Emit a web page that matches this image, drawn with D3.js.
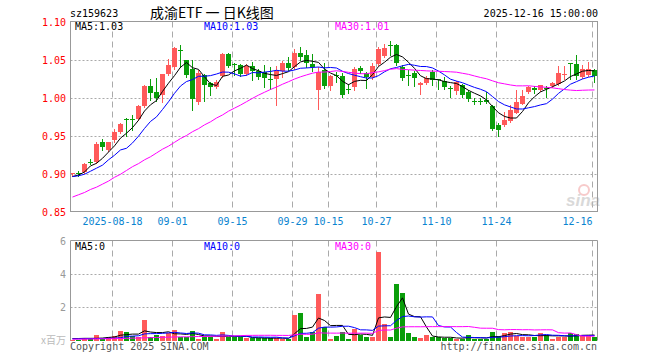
<!DOCTYPE html>
<html>
<head>
<meta charset="utf-8">
<script src="https://cdn.jsdelivr.net/npm/d3@7"></script>
<style>
  body { margin: 0; background: #fff; }
  svg { display: block; }
  text { font-family: "DejaVu Sans Mono", monospace; font-size: 10px; }
</style>
</head>
<body>
<svg id="chart" width="660" height="360"></svg>
<script>
// trading days shown in the chart
const dates = [
  "2025-08-07","2025-08-08","2025-08-11","2025-08-12","2025-08-13","2025-08-14","2025-08-15",
  "2025-08-18","2025-08-19","2025-08-20","2025-08-21","2025-08-22","2025-08-25","2025-08-26",
  "2025-08-27","2025-08-28","2025-08-29","2025-09-01","2025-09-02","2025-09-03","2025-09-04",
  "2025-09-05","2025-09-08","2025-09-09","2025-09-10","2025-09-11","2025-09-12","2025-09-15",
  "2025-09-16","2025-09-17","2025-09-18","2025-09-19","2025-09-22","2025-09-23","2025-09-24",
  "2025-09-25","2025-09-26","2025-09-29","2025-09-30","2025-10-09","2025-10-10","2025-10-13",
  "2025-10-14","2025-10-15","2025-10-16","2025-10-17","2025-10-20","2025-10-21","2025-10-22",
  "2025-10-23","2025-10-24","2025-10-27","2025-10-28","2025-10-29","2025-10-30","2025-10-31",
  "2025-11-03","2025-11-04","2025-11-05","2025-11-06","2025-11-07","2025-11-10","2025-11-11",
  "2025-11-12","2025-11-13","2025-11-14","2025-11-17","2025-11-18","2025-11-19","2025-11-20",
  "2025-11-21","2025-11-24","2025-11-25","2025-11-26","2025-11-27","2025-11-28","2025-12-01",
  "2025-12-02","2025-12-03","2025-12-04","2025-12-05","2025-12-08","2025-12-09","2025-12-10",
  "2025-12-11","2025-12-12","2025-12-15","2025-12-16"
];

const opens = [
  0.900,0.901,0.902,0.915,0.915,0.941,0.931,0.943,0.955,0.972,0.972,0.972,0.989,1.015,1.007,1.004,
  1.031,1.040,1.062,1.050,1.037,0.994,1.029,1.019,1.014,1.028,1.057,1.044,1.043,1.031,1.041,1.035,
  1.034,1.024,1.024,1.035,1.046,1.040,1.059,1.056,1.044,1.009,1.036,1.015,1.029,1.028,1.011,1.013,
  1.039,1.032,1.027,1.044,1.054,1.069,1.069,1.040,1.030,1.032,1.016,1.020,1.034,1.024,1.022,1.013,
  1.008,1.016,1.007,0.996,0.995,0.997,0.989,0.964,0.965,0.969,0.980,0.992,1.007,1.013,1.010,1.012,
  1.015,1.018,1.030,1.046,1.044,1.027,1.029,1.036
];
const highs = [
  0.901,0.903,0.914,0.919,0.941,0.945,0.941,0.959,0.967,0.973,0.977,0.990,1.017,1.025,1.026,1.031,
  1.051,1.066,1.069,1.050,1.050,1.036,1.031,1.021,1.023,1.059,1.058,1.046,1.044,1.044,1.047,1.037,
  1.043,1.040,1.041,1.048,1.053,1.064,1.067,1.062,1.057,1.040,1.045,1.030,1.034,1.032,1.018,1.040,
  1.041,1.034,1.045,1.067,1.071,1.075,1.071,1.043,1.036,1.035,1.020,1.028,1.036,1.025,1.027,1.015,
  1.022,1.018,1.010,0.999,1.000,1.007,0.990,0.967,0.981,0.990,1.010,1.010,1.015,1.015,1.017,1.015,
  1.020,1.041,1.041,1.046,1.056,1.043,1.047,1.038
];
const lows = [
  0.897,0.897,0.901,0.913,0.914,0.931,0.930,0.942,0.953,0.950,0.957,0.970,0.988,0.997,0.995,0.994,
  1.030,1.038,1.040,1.027,0.983,0.992,0.996,1.003,1.013,1.027,1.040,1.029,1.028,1.030,1.023,1.024,
  1.014,1.011,0.990,1.027,1.036,1.038,1.049,1.040,1.035,0.985,1.012,1.010,1.021,1.001,1.006,1.010,
  1.032,1.012,1.025,1.043,1.053,1.056,1.043,1.023,1.016,1.015,1.005,1.018,1.017,1.011,1.011,1.001,
  1.005,1.001,0.996,0.991,0.991,0.993,0.957,0.950,0.963,0.968,0.979,0.991,1.006,1.006,1.009,1.001,
  1.014,1.017,1.025,1.025,1.025,1.026,1.028,1.021
];
const closes = [
  0.901,0.900,0.913,0.914,0.939,0.934,0.941,0.954,0.965,0.971,0.971,0.989,1.015,1.006,0.999,1.031,
  1.043,1.065,1.061,1.030,0.997,1.032,1.016,1.014,1.020,1.057,1.041,1.043,1.031,1.041,1.034,1.027,
  1.026,1.023,1.035,1.046,1.040,1.059,1.054,1.045,1.040,1.033,1.015,1.028,1.028,1.003,1.010,1.037,
  1.035,1.027,1.041,1.064,1.065,1.068,1.045,1.025,1.029,1.025,1.019,1.026,1.023,1.023,1.014,1.012,
  1.020,1.003,0.998,0.995,0.9945,0.994,0.959,0.957,0.971,0.984,0.994,1.002,1.014,1.011,1.016,1.011,
  1.019,1.032,1.031,1.045,1.028,1.037,1.037,1.028
];
// volume, millions of shares
const volumes = [
  0.05,0.05,0.14,0.08,0.34,0.12,0.24,0.28,0.60,0.52,0.28,0.24,1.26,0.24,0.36,0.28,
  0.48,0.66,0.20,0.20,0.60,0.12,0.24,0.20,0.10,0.54,0.20,0.20,0.20,0.14,0.14,0.14,
  0.14,0.14,0.16,0.12,0.08,1.54,1.66,0.22,0.52,2.80,0.80,0.12,0.28,0.52,0.12,0.70,
  0.32,0.18,0.24,5.34,0.98,0.18,3.42,2.88,0.46,0.22,0.14,0.34,0.18,0.18,0.14,0.14,
  0.12,0.12,0.34,0.10,0.10,0.10,0.54,0.28,0.46,0.54,0.28,0.20,0.24,0.24,0.48,0.32,
  0.12,0.24,0.20,0.44,0.40,0.28,0.28,0.24
];

// moving-average values before a full window exists
const ma5Head = [0.896, 0.898, 0.902, 0.910];
const ma10Head = [0.896, 0.897, 0.899, 0.903, 0.907, 0.911, 0.918, 0.924, 0.931];
const ma30Head = [0.869,0.872,0.875,0.879,0.882,0.886,0.890,0.895,0.899,0.904,0.909,0.913,0.918,0.922,
  0.927,0.932,0.936,0.941,0.946,0.950,0.955,0.959,0.964,0.968,0.973,0.977,0.982,0.986,0.990];
const volMa5Head = [0.12, 0.12, 0.13, 0.13];
const volMa10Head = [0.10, 0.10, 0.11, 0.11, 0.12, 0.12, 0.13, 0.14, 0.17];
const volMa30Head = [0.08,0.08,0.09,0.09,0.10,0.10,0.11,0.11,0.12,0.13,0.14,0.15,0.16,0.17,0.18,
  0.19,0.20,0.21,0.22,0.22,0.23,0.24,0.24,0.25,0.26,0.26,0.27,0.28,0.29];

const tickDates = ["2025-08-18","2025-09-01","2025-09-15","2025-09-29","2025-10-15","2025-10-27","2025-11-10","2025-11-24","2025-12-16"];
const tickLabels = ["2025-08-18","09-01","09-15","09-29","10-15","10-27","11-10","11-24","12-16"];
const priceTicks = [0.85, 0.90, 0.95, 1.00, 1.05, 1.10];
const volTicks = [2, 4, 6];
const priceLegend = ["MA5:1.03", "MA10:1.03", "MA30:1.01"];
const volLegend = ["MA5:0", "MA10:0", "MA30:0"];

const RED = "#ff5a5a", GREEN = "#0a9e0a";
const maColors = ["#000", "#0000ff", "#ff00ff"];
const left = 70.5, right = 597.5;

const svg = d3.select("#chart");
svg.append("rect").attr("width", 660).attr("height", 360).attr("fill", "#fff");

const x = d3.scaleBand().domain(dates).range([69.5, 597.5]);
const cx = i => x(dates[i]) + 3;
const y = d3.scaleLinear().domain([0.85, 1.10]).range([211.5, 21.5]);
const yv = d3.scaleLinear().domain([0, 6]).range([340.5, 240.5]);
const idx = d3.range(dates.length);

const movingAvg = (values, n, head) =>
  values.map((v, i) => i < n - 1 ? head[i] : d3.mean(values.slice(i - n + 1, i + 1)));

const ma = [movingAvg(closes, 5, ma5Head), movingAvg(closes, 10, ma10Head), movingAvg(closes, 30, ma30Head)];
const vma = [movingAvg(volumes, 5, volMa5Head), movingAvg(volumes, 10, volMa10Head), movingAvg(volumes, 30, volMa30Head)];
const colorOf = i => closes[i] >= opens[i] ? RED : GREEN;

// ---- header
svg.append("text").attr("x", 70).attr("y", 17).text("sz159623");
svg.append("text").attr("x", 150).attr("y", 18)
  .style("font-family", '"Noto Sans CJK SC", sans-serif').style("font-size", "14px")
  .text("成渝ETF 一 日K线图");
svg.append("text").attr("x", 598).attr("y", 17).attr("text-anchor", "end").text("2025-12-16 15:00:00");

// ---- grids
function grid(g, yScale, ticks, top, bottom) {
  g.append("g").selectAll("line").data(ticks).join("line")
    .attr("x1", left).attr("x2", right)
    .attr("y1", d => Math.round(yScale(d)) + 0.5).attr("y2", d => Math.round(yScale(d)) + 0.5)
    .attr("stroke", "#aaa").attr("stroke-dasharray", "2,2");
  g.append("g").selectAll("line").data(tickDates).join("line")
    .attr("x1", d => x(d) + 1).attr("x2", d => x(d) + 1)
    .attr("y1", top).attr("y2", bottom)
    .attr("stroke", "#aaa").attr("stroke-dasharray", "6,4");
}

const price = svg.append("g");
grid(price, y, [0.90, 0.95, 1.00, 1.05], 21.5, 211.5);

// sina watermark
const mark = price.append("g").attr("opacity", 0.55);
mark.append("circle").attr("cx", 584).attr("cy", 190).attr("r", 5)
  .attr("fill", "none").attr("stroke", "#f2a0a0").attr("stroke-width", 2);
mark.append("text").attr("x", 566).attr("y", 206)
  .style("font-family", '"Liberation Sans", sans-serif').style("font-size", "17px")
  .style("font-style", "italic").style("font-weight", "bold")
  .attr("fill", "#bbb").text("sina");

// candles
price.append("g").selectAll("line").data(idx).join("line")
  .attr("x1", cx).attr("x2", cx)
  .attr("y1", i => Math.round(y(highs[i]))).attr("y2", i => Math.round(y(lows[i])) + 1)
  .attr("stroke", colorOf);
price.append("g").selectAll("rect").data(idx).join("rect")
  .attr("x", i => cx(i) - 2.5).attr("width", 5)
  .attr("y", i => Math.round(y(Math.max(opens[i], closes[i]))))
  .attr("height", i => Math.max(1, Math.round(Math.abs(y(opens[i]) - y(closes[i])))))
  .attr("fill", colorOf);

// price MAs
const priceLine = arr => d3.line().x(cx).y(i => y(arr[i]));
ma.forEach((arr, k) => {
  price.append("path").attr("d", priceLine(arr)(idx))
    .attr("fill", "none").attr("stroke", maColors[k]).attr("stroke-width", 1);
});

price.append("rect").attr("x", left).attr("y", 21.5).attr("width", right - left).attr("height", 190)
  .attr("fill", "none").attr("stroke", "#999");

// price labels
price.append("g").selectAll("text").data(priceTicks).join("text")
  .attr("x", 66).attr("y", d => y(d) + 4).attr("text-anchor", "end")
  .attr("fill", "#f00").text(d => d.toFixed(2));

price.append("g").selectAll("text").data(priceLegend).join("text")
  .attr("x", (d, k) => [75, 204, 335][k]).attr("y", 30)
  .attr("fill", (d, k) => maColors[k]).text(d => d);

// date labels
price.append("g").selectAll("text").data(tickDates).join("text")
  .attr("x", d => x(d) + 1).attr("y", 225)
  .attr("text-anchor", (d, k) => k === tickDates.length - 1 ? "end" : "middle")
  .attr("fill", "#0a84d0")
  .text((d, k) => tickLabels[k]);

// ---- volume
const vol = svg.append("g");
grid(vol, yv, [2, 4], 240.5, 340.5);

vol.append("g").selectAll("rect").data(idx).join("rect")
  .attr("x", i => cx(i) - 2.5).attr("width", 5)
  .attr("y", i => Math.round(yv(volumes[i])))
  .attr("height", i => Math.max(1, 341 - Math.round(yv(volumes[i]))))
  .attr("fill", colorOf);

const volLine = arr => d3.line().x(cx).y(i => yv(arr[i]));
vma.forEach((arr, k) => {
  vol.append("path").attr("d", volLine(arr)(idx))
    .attr("fill", "none").attr("stroke", maColors[k]).attr("stroke-width", 1);
});

vol.append("path")
  .attr("d", `M${left},340.5V240.5H${right}V340.5`)
  .attr("fill", "none").attr("stroke", "#999");

vol.append("g").selectAll("text").data(volTicks).join("text")
  .attr("x", 66).attr("y", d => yv(d) + 4).attr("text-anchor", "end")
  .attr("fill", "#999").text(d => d);
vol.append("text").attr("x", 66).attr("y", 344).attr("text-anchor", "end")
  .attr("fill", "#bbb").style("font-family", '"Noto Sans CJK SC", sans-serif').text("x百万");

vol.append("g").selectAll("text").data(volLegend).join("text")
  .attr("x", (d, k) => [75, 204, 335][k]).attr("y", 250)
  .attr("fill", (d, k) => maColors[k]).text(d => d);

svg.append("text").attr("x", 70).attr("y", 350).attr("fill", "#555").text("Copyright 2025 SINA.COM");
svg.append("text").attr("x", 597).attr("y", 350).attr("text-anchor", "end").attr("fill", "#555")
  .text("http://finance.sina.com.cn");
</script>
</body>
</html>
